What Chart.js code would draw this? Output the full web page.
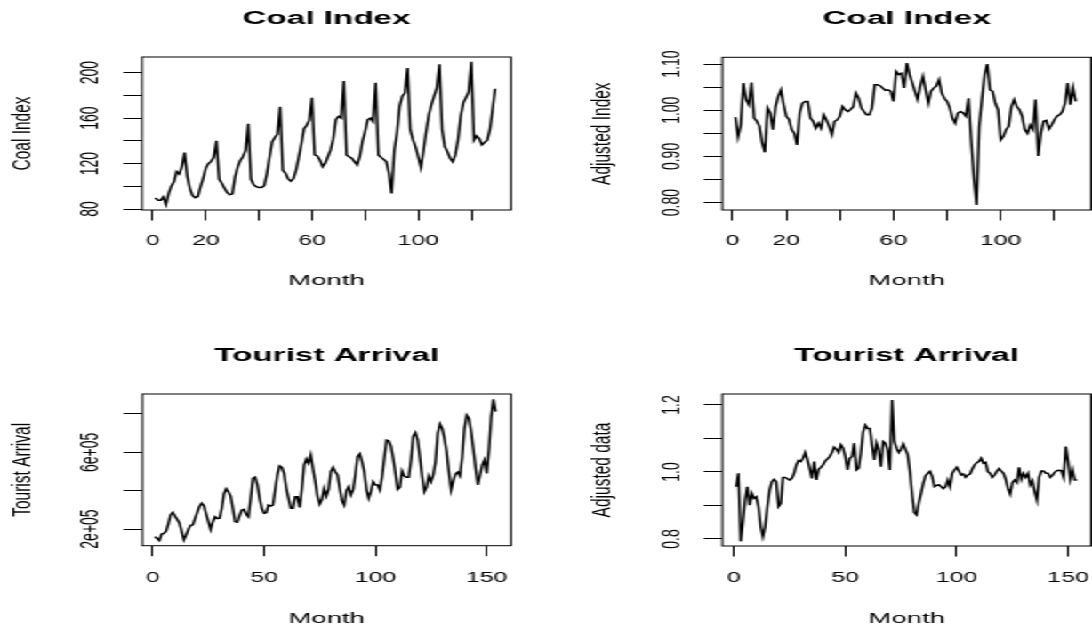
<!DOCTYPE html>
<html>
<head>
<meta charset="utf-8">
<script src="https://cdn.jsdelivr.net/npm/chart.js@4.4.1/dist/chart.umd.min.js"></script>
<style>
  html, body { margin: 0; padding: 0; background: #fff; overflow: hidden; }
  /* the figure is laid out narrow and widened horizontally as a whole */
  #fig { position: absolute; left: 0; top: 0; width: 614px; height: 629px;
         transform: scaleX(1.778502); transform-origin: 0 0; }
  #fig canvas { position: absolute; left: 0; top: 0; }
</style>
</head>
<body>
<div id="fig">
  <canvas id="coal" width="614" height="629"></canvas>
  <canvas id="coalAdj" width="614" height="629"></canvas>
  <canvas id="tourist" width="614" height="629"></canvas>
  <canvas id="touristAdj" width="614" height="629"></canvas>
</div>
<script>
// ---- monthly series ----
const coalIndex = [
  89.8, 87.7, 87.7, 90.7, 84.1, 93.6, 100.1, 104.0, 112.9, 110.8, 117.3, 129.7,
  109.0, 98.0, 92.0, 90.0, 91.0, 99.6, 107.0, 116.0, 120.0, 122.0, 125.5, 140.0,
  106.4, 102.6, 98.5, 94.6, 92.6, 93.2, 108.0, 116.8, 122.8, 126.3, 131.5, 155.0,
  106.4, 101.4, 99.7, 99.0, 99.0, 100.6, 111.0, 125.6, 139.0, 143.0, 146.0, 170.0,
  114.0, 111.6, 106.6, 104.5, 106.6, 114.0, 125.6, 137.5, 150.7, 153.7, 158.2, 178.0,
  127.6, 126.7, 123.0, 117.3, 120.2, 126.0, 132.0, 141.5, 158.6, 161.6, 160.0, 192.6,
  127.6, 126.0, 124.7, 121.7, 118.8, 126.0, 139.5, 148.2, 158.6, 160.0, 157.0, 191.1,
  127.6, 125.5, 123.7, 121.7, 111.4, 93.6, 131.5, 146.8, 170.4, 179.3, 182.0, 204.0,
  149.8, 141.0, 135.0, 126.0, 116.7, 131.5, 148.2, 163.0, 171.9, 179.3, 186.7, 207.4,
  150.0, 135.0, 130.5, 124.7, 121.7, 127.6, 141.0, 161.6, 173.4, 178.0, 183.0, 209.5,
  140.6, 144.5, 142.0, 136.5, 138.7, 140.6, 149.8, 167.5, 185.8
];

const coalAdjusted = [
  0.985, 0.942, 0.968, 1.059, 1.023, 1.012, 1.060, 0.983, 0.976, 0.965, 0.929, 0.909,
  1.005, 0.994, 0.958, 1.008, 1.030, 1.044, 1.012, 0.987, 0.980, 0.958, 0.950, 0.925,
  0.994, 1.015, 1.019, 1.019, 0.983, 0.976, 0.961, 0.972, 0.961, 0.990, 0.979, 0.965,
  0.947, 0.976, 0.979, 0.987, 1.008, 1.001, 0.997, 1.002, 1.008, 1.037, 1.026, 1.005,
  0.997, 0.990, 0.990, 1.005, 1.055, 1.055, 1.053, 1.048, 1.043, 1.044, 1.041, 1.019,
  1.084, 1.077, 1.080, 1.048, 1.102, 1.077, 1.059, 1.041, 1.023, 1.052, 1.073, 1.044,
  1.015, 1.041, 1.048, 1.052, 1.066, 1.037, 1.026, 1.019, 1.005, 0.983, 0.972, 0.994,
  0.997, 0.994, 0.987, 1.026, 0.935, 0.853, 0.795, 0.965, 1.024, 1.077, 1.100, 1.044,
  1.041, 1.015, 1.001, 0.936, 0.943, 0.958, 0.965, 1.008, 1.023, 1.008, 1.001, 0.987,
  0.958, 0.950, 0.968, 0.958, 1.023, 0.901, 0.950, 0.976, 0.978, 0.959, 0.968, 0.979,
  0.987, 0.990, 0.997, 1.015, 1.059, 1.012, 1.048, 1.019
];

const touristArrival = [
  160000, 150000, 140000, 174000, 177000, 188000, 226000, 273000, 287000, 268000, 250000, 230000,
  188000, 143000, 168000, 198000, 219000, 221000, 254000, 287000, 317000, 334000, 322000, 278000,
  238000, 198000, 238000, 264000, 254000, 256000, 308000, 383000, 410000, 395000, 372000, 308000,
  238000, 235000, 268000, 299000, 303000, 277000, 264000, 360000, 464000, 470000, 430000, 360000,
  308000, 282000, 285000, 325000, 320000, 325000, 404000, 482000, 529000, 522000, 490000, 412000,
  360000, 308000, 308000, 369000, 369000, 313000, 412000, 534000, 565000, 543000, 586000, 513000,
  447000, 369000, 330000, 355000, 412000, 372000, 407000, 499000, 522000, 499000, 482000, 412000,
  348000, 325000, 400000, 421000, 377000, 404000, 482000, 577000, 591000, 551000, 499000, 407000,
  360000, 395000, 447000, 430000, 430000, 404000, 473000, 569000, 664000, 661000, 633000, 569000,
  490000, 407000, 418000, 503000, 477000, 470000, 470000, 560000, 685000, 703000, 664000, 569000,
  473000, 395000, 418000, 477000, 447000, 482000, 551000, 699000, 748000, 725000, 673000, 603000,
  499000, 404000, 452000, 487000, 497000, 477000, 577000, 725000, 793000, 777000, 708000, 616000,
  517000, 430000, 482000, 534000, 560000, 490000, 612000, 786000, 877000, 812000
];

const touristAdjusted = [
  0.956, 0.996, 0.793, 0.850, 0.916, 0.956, 0.901, 0.936, 0.921, 0.926, 0.897, 0.837,
  0.807, 0.837, 0.897, 0.946, 0.971, 0.978, 0.971, 0.897, 0.906, 0.984, 0.984, 0.980,
  0.976, 0.981, 0.996, 1.021, 1.034, 1.031, 1.041, 1.058, 1.036, 1.011, 0.981, 1.031,
  0.976, 1.008, 1.014, 1.021, 1.033, 1.039, 1.046, 1.058, 1.074, 1.068, 1.058, 1.081,
  1.071, 1.046, 1.006, 1.041, 1.046, 1.086, 1.006, 1.011, 1.058, 1.120, 1.140, 1.130,
  1.130, 1.081, 1.036, 1.086, 1.066, 1.016, 1.091, 1.086, 1.066, 1.006, 1.215, 1.091,
  1.071, 1.058, 1.068, 1.084, 1.068, 1.052, 1.001, 0.931, 0.879, 0.872, 0.908, 0.936,
  0.966, 0.989, 0.996, 1.002, 0.986, 0.956, 0.960, 0.962, 0.956, 0.950, 0.956, 0.976,
  0.956, 0.996, 1.006, 1.014, 1.003, 0.991, 0.994, 0.984, 0.991, 0.994, 1.009, 1.021,
  1.028, 1.031, 1.041, 1.026, 1.029, 1.001, 0.996, 0.984, 0.991, 1.002, 1.010, 1.003,
  0.996, 0.978, 0.951, 0.934, 0.968, 0.976, 0.968, 1.014, 0.978, 0.996, 0.984, 0.996,
  0.961, 0.974, 0.941, 0.916, 0.984, 1.003, 1.003, 0.996, 0.996, 0.984, 0.990, 0.999,
  1.004, 1.005, 1.004, 0.984, 1.076, 1.031, 0.978, 1.006, 0.976, 0.976
];

// ---- axis ticks and their printed labels ----
const monthTicks120 = [0, 20, 40, 60, 80, 100, 120];
const monthLabels120 = ['0', '20', '', '60', '', '100', ''];
const monthTicks150 = [0, 50, 100, 150];
const monthLabels150 = ['0', '50', '100', '150'];

const coalTicks = [80, 100, 120, 140, 160, 180, 200];
const coalLabels = ['80', '', '120', '', '160', '', '200'];
const coalAdjTicks = [0.80, 0.85, 0.90, 0.95, 1.00, 1.05, 1.10];
const coalAdjLabels = ['0.80', '', '0.90', '', '1.00', '', '1.10'];
const touristTicks = [200000, 400000, 600000, 800000];
const touristLabels = ['2e+05', '', '6e+05', ''];
const touristAdjTicks = [0.8, 0.9, 1.0, 1.1, 1.2];
const touristAdjLabels = ['0.8', '', '1.0', '', '1.2'];

// axis ranges (data range widened by 4% on each side)
const coalXRange = [-4.03, 134.95];
const coalYRange = [79.14, 213.8];
const coalAdjXRange = [-3.88, 133.7];
const coalAdjYRange = [0.7841, 1.1145];
const touristXRange = [-4.67, 160.9];
const touristYRange = [112900, 904300];
const touristAdjXRange = [-5.24, 160.3];
const touristAdjYRange = [0.7791, 1.2328];

// ---- drawing ----
const SX = 1092 / 614;          // horizontal widening of #fig
const CANVAS_W = 614, CANVAS_H = 629;
const FAMILY = "'Liberation Sans', Arial, Helvetica, sans-serif";
const TICK_PX = 14, LAB_PX = 15.5, MAIN_PX = 18.7, TICK_LEN = 10.5;

Chart.defaults.color = '#000';
Chart.defaults.font.family = FAMILY;

const measureCtx = document.createElement('canvas').getContext('2d');
function widestLabel(labels) {
  measureCtx.font = 'normal ' + TICK_PX + 'px ' + FAMILY;
  return Math.max(0, ...labels.filter(s => s).map(s => measureCtx.measureText(s).width));
}

// closed box round the plotting region
const framePlugin = {
  id: 'frame',
  afterDatasetsDraw(chart) {
    const a = chart.chartArea, ctx = chart.ctx;
    ctx.save();
    ctx.strokeStyle = '#000';
    ctx.lineWidth = 1;
    ctx.strokeRect(a.left, a.top, a.right - a.left, a.bottom - a.top);
    ctx.restore();
  }
};

function drawPanel(p) {
  const q = p.place;
  const L = q.left / SX, R = q.right / SX, T = q.top, B = q.bottom;
  const lhLab = LAB_PX * 1.2, lhTick = TICK_PX * 1.2, lhMain = MAIN_PX * 1.2;
  const padLeft = q.yTitleX / SX - lhLab / 2;
  const yWidth = L - padLeft;
  const padTop = q.titleY - lhMain / 2;
  const titleGap = T - q.titleY - lhMain / 2;
  const xHeight = q.xTitleY - B + lhLab / 2;
  const padBottom = CANVAS_H - B - xHeight;
  const padRight = CANVAS_W - R;
  const xTickPad = q.xTickY - B - TICK_LEN - lhTick / 2;
  const yTickPad = (L - q.yTickX / SX) - TICK_LEN - widestLabel(p.yLabels) / 2;

  const tickGrid = { drawOnChartArea: false, drawTicks: true, tickLength: TICK_LEN,
                     tickColor: '#000', tickWidth: 1, color: '#000' };

  new Chart(document.getElementById(p.id), {
    type: 'line',
    data: {
      datasets: [{
        data: p.values.map((v, i) => ({ x: i + 1, y: v })),
        borderColor: '#000',
        borderWidth: 1.45,
        pointRadius: 0,
        tension: 0,
        fill: false
      }]
    },
    options: {
      responsive: false,
      animation: false,
      events: [],
      layout: { padding: { left: padLeft, right: padRight, top: padTop, bottom: padBottom } },
      plugins: {
        legend: { display: false },
        tooltip: { enabled: false },
        title: {
          display: true, text: p.title, fullSize: false, color: '#000',
          font: { family: FAMILY, size: MAIN_PX, weight: 'bold' },
          padding: { top: 0, bottom: titleGap }
        }
      },
      scales: {
        x: {
          type: 'linear', min: p.xRange[0], max: p.xRange[1],
          afterBuildTicks: s => { s.ticks = p.xTicks.map(v => ({ value: v })); },
          afterFit: s => { s.height = xHeight; s.paddingLeft = 0; s.paddingRight = 0; },
          grid: tickGrid,
          border: { display: false },
          ticks: {
            autoSkip: false, minRotation: 0, maxRotation: 0, padding: xTickPad,
            color: '#000', font: { family: FAMILY, size: TICK_PX },
            callback: (v, i) => p.xLabels[i]
          },
          title: {
            display: true, text: 'Month', color: '#000',
            font: { family: FAMILY, size: LAB_PX }, padding: { top: 0, bottom: 0 }
          }
        },
        y: {
          type: 'linear', min: p.yRange[0], max: p.yRange[1],
          afterBuildTicks: s => { s.ticks = p.yTicks.map(v => ({ value: v })); },
          afterFit: s => { s.width = yWidth; s.paddingTop = 0; s.paddingBottom = 0; },
          grid: tickGrid,
          border: { display: false },
          ticks: {
            autoSkip: false, minRotation: 90, maxRotation: 90, crossAlign: 'center',
            padding: yTickPad, color: '#000', font: { family: FAMILY, size: TICK_PX },
            callback: (v, i) => p.yLabels[i]
          },
          title: {
            display: true, text: p.yTitle, color: '#000',
            font: { family: FAMILY, size: LAB_PX }, padding: { top: 0, bottom: 0 }
          }
        }
      }
    },
    plugins: [framePlugin]
  });
}

const panels = [
  { id: 'coal', title: 'Coal Index', yTitle: 'Coal Index', values: coalIndex,
    xRange: coalXRange, yRange: coalYRange, xTicks: monthTicks120, xLabels: monthLabels120,
    yTicks: coalTicks, yLabels: coalLabels,
    place: { left: 142, right: 511, top: 57, bottom: 210, titleY: 19.2,
             yTitleX: 22, yTickX: 91.7, xTickY: 241.3, xTitleY: 281.2 } },
  { id: 'coalAdj', title: 'Coal Index', yTitle: 'Adjusted Index', values: coalAdjusted,
    xRange: coalAdjXRange, yRange: coalAdjYRange, xTicks: monthTicks120, xLabels: monthLabels120,
    yTicks: coalAdjTicks, yLabels: coalAdjLabels,
    place: { left: 722.3, right: 1091, top: 57.3, bottom: 210, titleY: 19.2,
             yTitleX: 602.5, yTickX: 672, xTickY: 241.3, xTitleY: 281.2 } },
  { id: 'tourist', title: 'Tourist Arrival', yTitle: 'Tourist Arrival', values: touristArrival,
    xRange: touristXRange, yRange: touristYRange, xTicks: monthTicks150, xLabels: monthLabels150,
    yTicks: touristTicks, yLabels: touristLabels,
    place: { left: 142.3, right: 511, top: 394, bottom: 545.7, titleY: 356.2,
             yTitleX: 22, yTickX: 91.7, xTickY: 578.3, xTitleY: 618.3 } },
  { id: 'touristAdj', title: 'Tourist Arrival', yTitle: 'Adjusted data', values: touristAdjusted,
    xRange: touristAdjXRange, yRange: touristAdjYRange, xTicks: monthTicks150, xLabels: monthLabels150,
    yTicks: touristAdjTicks, yLabels: touristAdjLabels,
    place: { left: 722.3, right: 1091, top: 394, bottom: 546, titleY: 356.2,
             yTitleX: 603, yTickX: 672, xTickY: 578.3, xTitleY: 618.3 } }
];

panels.forEach(drawPanel);
</script>
</body>
</html>
